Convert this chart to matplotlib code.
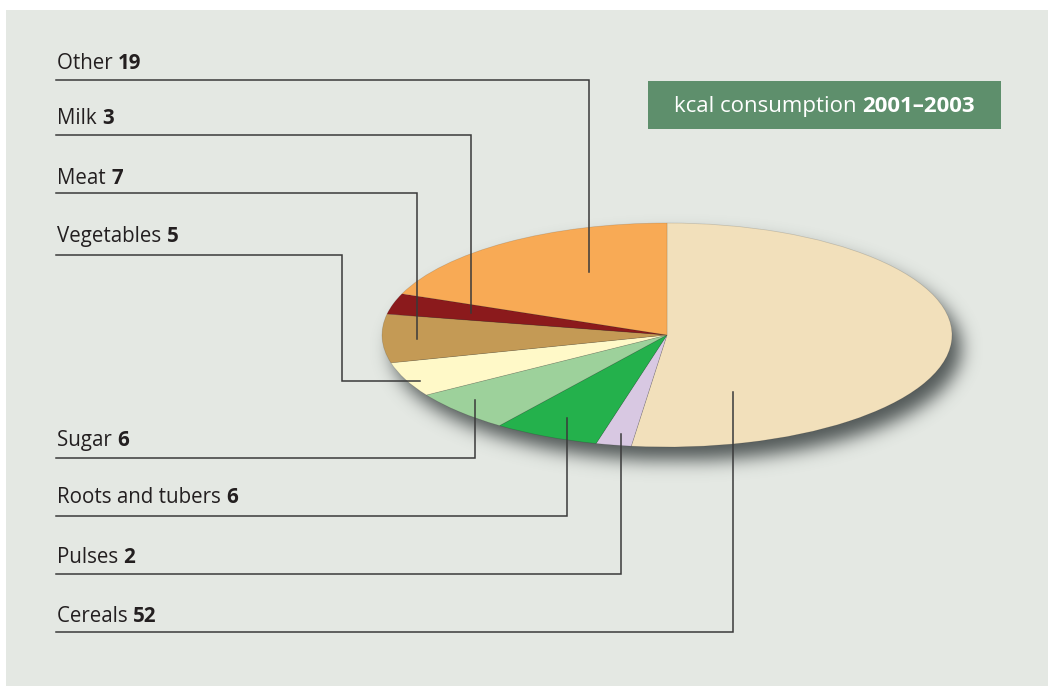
import numpy as np
import matplotlib.pyplot as plt
from matplotlib.patches import Rectangle

# data, clockwise from 12 o'clock
foods = ['Cereals', 'Pulses', 'Roots and tubers', 'Sugar', 'Vegetables', 'Meat', 'Milk', 'Other']
kcal_share = [52, 2, 6, 6, 5, 7, 3, 19]
colors = ['#f2e0bb', '#d8c8e2', '#24b14c', '#9dd19b', '#fff9c8', '#c49a55', '#8b1a1c', '#f8aa55']
title_plain = 'kcal consumption '
title_bold = '2001\u20132003'

# layout (pixels): label baseline y, leader line y, elbow x, end point of the leader
label_pos = {
    'Other':            (69, 80, 589, 272),
    'Milk':             (124, 135, 471, 313),
    'Meat':             (184, 193, 417, 339),
    'Vegetables':       (242, 255, 342, 381),
    'Sugar':            (446, 458, 475, 400),
    'Roots and tubers': (503, 516, 567, 418),
    'Pulses':           (563, 574, 621, 434),
    'Cereals':          (622, 632, 733, 392),
}
W, H = 1050, 686
cx, cy, rx, ry = 667, 335, 285, 112

plt.rcParams['font.family'] = ['Open Sans', 'DejaVu Sans']

fig = plt.figure(figsize=(W / 100, H / 100), dpi=100)
fig.patch.set_facecolor('white')
ax = fig.add_axes([0, 0, 1, 1])
ax.set_xlim(0, W)
ax.set_ylim(H, 0)
ax.axis('off')

ax.add_patch(Rectangle((6, 10), W - 8, H - 10, facecolor='#e4e8e3', edgecolor='none', zorder=0))


# soft blurred shadow below the pie
def blur1d(a, sigma, axis):
    k = np.arange(-3 * sigma, 3 * sigma + 1)
    g = np.exp(-k ** 2 / (2 * sigma ** 2))
    g /= g.sum()
    return np.apply_along_axis(lambda v: np.convolve(v, g, mode='same'), axis, a)


yy, xx = np.mgrid[0:H, 0:W]
mask = (((xx - (cx + 9)) / rx) ** 2 + ((yy - (cy + 13)) / ry) ** 2 <= 1).astype(float)
soft = blur1d(blur1d(mask, 9, 0), 9, 1)
shadow = np.zeros((H, W, 4))
shadow[..., :3] = np.array([0.22, 0.25, 0.25])
shadow[..., 3] = 0.85 * soft
ax.imshow(shadow, extent=(0, W, H, 0), zorder=1, interpolation='bilinear')
ax.set_xlim(0, W)
ax.set_ylim(H, 0)

# pie on an axes stretched into an ellipse
pax = fig.add_axes([(cx - rx) / W, (H - cy - ry) / H, 2 * rx / W, 2 * ry / H])
pax.pie(kcal_share, colors=colors, startangle=90, counterclock=False, radius=1,
        wedgeprops=dict(edgecolor=(0, 0, 0, 0.15), linewidth=0.5))
pax.set_aspect('auto')
pax.set_xlim(-1, 1)
pax.set_ylim(-1, 1)
pax.axis('off')

# leaders drawn above the pie
lax = fig.add_axes([0, 0, 1, 1])
lax.set_xlim(0, W)
lax.set_ylim(H, 0)
lax.axis('off')
lax.patch.set_alpha(0)

fig.canvas.draw()
renderer = fig.canvas.get_renderer()
for name, val in zip(foods, kcal_share):
    ty, ly, ex, ey = label_pos[name]
    t = lax.text(57, ty, name + ' ', fontsize=14.8, color='#231f20', va='baseline', ha='left')
    bb = t.get_window_extent(renderer)
    x_end = lax.transData.inverted().transform((bb.x1, 0))[0]
    lax.text(x_end, ty, str(val), fontsize=14.8, color='#231f20', fontweight='bold',
             va='baseline', ha='left')
    if name == 'Vegetables':
        xs = [56, ex, ex, 420]
        ys = [ly, ly, ey, ey]
    else:
        xs = [56, ex, ex]
        ys = [ly, ly, ey]
    lax.plot(xs, ys, color='#3a3a3a', linewidth=1.1, solid_joinstyle='miter')

# title box
lax.add_patch(Rectangle((648, 81), 353, 48, facecolor='#5e8f6c', edgecolor='none'))
t1 = lax.text(0, 0, title_plain, fontsize=16, color='white', va='baseline')
t2 = lax.text(0, 0, title_bold, fontsize=16, color='white', fontweight='bold', va='baseline')
w1 = t1.get_window_extent(renderer).width
w2 = t2.get_window_extent(renderer).width
x0 = 824.5 - (w1 + w2) / 2
t1.set_position((x0, 112))
t2.set_position((x0 + w1, 112))

fig.savefig('out.png', dpi=100, facecolor='white')
